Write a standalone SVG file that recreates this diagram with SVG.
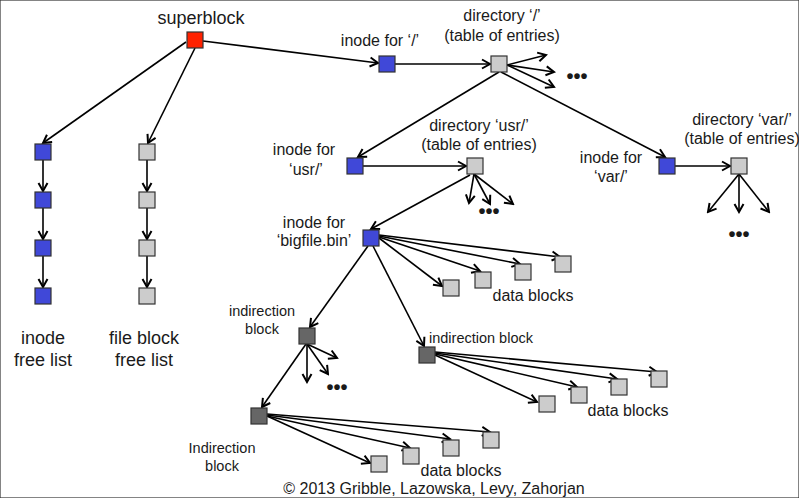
<svg xmlns="http://www.w3.org/2000/svg" width="799" height="498" viewBox="0 0 799 498">
<style>
text{font-family:"Liberation Sans",Arial,sans-serif;fill:#1a1a1a;font-size:16px}
.big{font-size:18px}
.sm{font-size:14.5px}
.c{text-anchor:middle}
.dots{font-size:20px;font-weight:bold;text-anchor:middle}
rect{stroke:#333;stroke-width:1.2}
.red{fill:#ff2200}
.blue{fill:#4048d8}
.gray{fill:#cccccc}
.dark{fill:#666666}
#connectors line{stroke:#000;stroke-width:1.6;marker-end:url(#arr)}
</style>
<defs>
<marker id="arr" viewBox="-10 -6 12 12" markerWidth="12" markerHeight="12" refX="0" refY="0" orient="auto" markerUnits="userSpaceOnUse">
<path d="M-8,-4.5 L0,0 L-8,4.5" fill="none" stroke="#000" stroke-width="2"/>
</marker>
</defs>
<rect x="0" y="0" width="799" height="498" fill="#fff" stroke="none"/>

<g id="connectors">
<line x1="186" y1="42" x2="43" y2="143"/>
<line x1="195" y1="48" x2="148" y2="143"/>
<line x1="43" y1="160" x2="43" y2="191"/>
<line x1="43" y1="208" x2="43" y2="239"/>
<line x1="43" y1="256" x2="43" y2="287"/>
<line x1="147" y1="160" x2="147" y2="191"/>
<line x1="147" y1="208" x2="147" y2="239"/>
<line x1="147" y1="256" x2="147" y2="287"/>
<line x1="203" y1="41" x2="378" y2="63"/>
<line x1="395" y1="64" x2="490" y2="64"/>
<line x1="507" y1="65" x2="546" y2="55"/>
<line x1="507" y1="65" x2="554" y2="72"/>
<line x1="507" y1="65" x2="554" y2="87"/>
<line x1="499" y1="72" x2="358" y2="157"/>
<line x1="501" y1="72" x2="665" y2="157"/>
<line x1="363" y1="166" x2="466" y2="166"/>
<line x1="474" y1="174" x2="469" y2="203"/>
<line x1="474" y1="174" x2="490" y2="204"/>
<line x1="474" y1="174" x2="513" y2="204"/>
<line x1="675" y1="166" x2="730" y2="166"/>
<line x1="739" y1="174" x2="708" y2="212"/>
<line x1="739" y1="174" x2="739" y2="212"/>
<line x1="739" y1="174" x2="769" y2="212"/>
<line x1="470" y1="175" x2="371" y2="229"/>
<line x1="379" y1="238" x2="442" y2="286"/>
<line x1="379" y1="237" x2="480" y2="271"/>
<line x1="379" y1="236" x2="520" y2="264"/>
<line x1="379" y1="235" x2="560" y2="257"/>
<line x1="368" y1="246" x2="310" y2="327"/>
<line x1="373" y1="246" x2="424" y2="346"/>
<line x1="307" y1="344" x2="307" y2="382"/>
<line x1="307" y1="344" x2="328" y2="374"/>
<line x1="307" y1="344" x2="337" y2="358"/>
<line x1="306" y1="344" x2="262" y2="407"/>
<line x1="267" y1="416" x2="370" y2="463"/>
<line x1="267" y1="416" x2="410" y2="448"/>
<line x1="267" y1="415" x2="450" y2="439"/>
<line x1="267" y1="414" x2="490" y2="432"/>
<line x1="435" y1="355" x2="537" y2="402"/>
<line x1="435" y1="354" x2="577" y2="387"/>
<line x1="435" y1="353" x2="617" y2="379"/>
<line x1="435" y1="352" x2="657" y2="372"/>
</g>

<g id="superblock"><rect class="red" x="187" y="32" width="16" height="16"/><text class="big c" x="201" y="24">superblock</text></g>

<g id="inode-free-list">
<rect class="blue" x="35" y="144" width="16" height="16"/>
<rect class="blue" x="35" y="192" width="16" height="16"/>
<rect class="blue" x="35" y="240" width="16" height="16"/>
<rect class="blue" x="35" y="288" width="16" height="16"/>
<text class="big c" x="43" y="344">inode</text>
<text class="big c" x="43" y="366">free list</text>
</g>
<g id="block-free-list">
<rect class="gray" x="139" y="144" width="16" height="16"/>
<rect class="gray" x="139" y="192" width="16" height="16"/>
<rect class="gray" x="139" y="240" width="16" height="16"/>
<rect class="gray" x="139" y="288" width="16" height="16"/>
<text class="big c" x="144" y="344">file block</text>
<text class="big c" x="144" y="366">free list</text>
</g>

<g id="inode-root"><rect class="blue" x="379" y="56" width="16" height="16"/><text class="c" x="380" y="46">inode for ‘/’</text></g>
<g id="dir-root"><rect class="gray" x="491" y="56" width="16" height="16"/>
<text class="c" x="502" y="21">directory ‘/’</text><text class="c" x="502" y="41">(table of entries)</text>
<text class="dots" x="577" y="83">•••</text></g>

<g id="inode-usr"><rect class="blue" x="347" y="158" width="16" height="16"/>
<text class="c" x="304" y="155">inode for</text><text class="c" x="306" y="175">‘usr/’</text></g>
<g id="dir-usr"><rect class="gray" x="467" y="158" width="16" height="16"/>
<text class="c" x="479" y="131">directory ‘usr/’</text><text class="c" x="479" y="150">(table of entries)</text>
<text class="dots" x="489" y="218">•••</text></g>

<g id="inode-var"><rect class="blue" x="659" y="158" width="16" height="16"/>
<text class="c" x="611" y="163">inode for</text><text class="c" x="611" y="182">‘var/’</text></g>
<g id="dir-var"><rect class="gray" x="731" y="158" width="16" height="16"/>
<text class="c" x="742" y="125">directory ‘var/’</text><text class="c" x="742" y="144">(table of entries)</text>
<text class="dots" x="739" y="241">•••</text></g>

<g id="inode-bigfile"><rect class="blue" x="363" y="230" width="16" height="16"/>
<text class="c" x="314" y="228">inode for</text><text class="c" x="314" y="246">‘bigfile.bin’</text></g>
<g id="data-bigfile">
<rect class="gray" x="443" y="280" width="16" height="16"/>
<rect class="gray" x="475" y="272" width="16" height="16"/>
<rect class="gray" x="515" y="264" width="16" height="16"/>
<rect class="gray" x="555" y="256" width="16" height="16"/>
<text class="c" x="533" y="301">data blocks</text>
</g>

<g id="indirection-1"><rect class="dark" x="299" y="328" width="16" height="16"/>
<text class="sm c" x="262" y="316">indirection</text><text class="sm c" x="262" y="334">block</text>
<text class="dots" x="337" y="394">•••</text></g>

<g id="indirection-2"><rect class="dark" x="419" y="347" width="16" height="16"/>
<text class="sm" x="429" y="343">indirection block</text></g>
<g id="data-indirection-2">
<rect class="gray" x="539" y="396" width="16" height="16"/>
<rect class="gray" x="571" y="387" width="16" height="16"/>
<rect class="gray" x="611" y="379" width="16" height="16"/>
<rect class="gray" x="651" y="371" width="16" height="16"/>
<text class="c" x="628" y="416">data blocks</text>
</g>

<g id="indirection-3"><rect class="dark" x="251" y="408" width="16" height="16"/>
<text class="sm c" x="222" y="453">Indirection</text><text class="sm c" x="222" y="471">block</text></g>
<g id="data-indirection-3">
<rect class="gray" x="371" y="456" width="16" height="16"/>
<rect class="gray" x="403" y="448" width="16" height="16"/>
<rect class="gray" x="443" y="440" width="16" height="16"/>
<rect class="gray" x="483" y="432" width="16" height="16"/>
<text class="c" x="461" y="476">data blocks</text>
</g>

<text class="c" x="434" y="494">© 2013 Gribble, Lazowska, Levy, Zahorjan</text>
</svg>
